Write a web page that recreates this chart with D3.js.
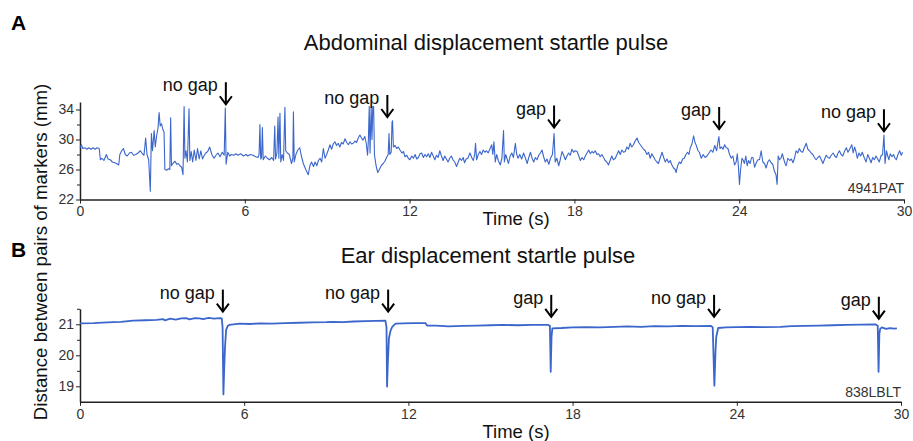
<!DOCTYPE html>
<html>
<head>
<meta charset="utf-8">
<script src="https://cdn.jsdelivr.net/npm/d3@7"></script>
<style>
  html, body { margin: 0; padding: 0; background: #fff; }
  svg { display: block; font-family: "Liberation Sans", Arial, sans-serif; }
  .axis path, .axis line { stroke: #222; }
  .axis text { fill: #333; font-size: 14px; font-family: "Liberation Sans", Arial, sans-serif; }
</style>
</head>
<body>
<svg id="chart" width="913" height="441"></svg>
<script>
// ---------------- DATA ----------------
const xTicks = [0, 6, 12, 18, 24, 30];
const topYTicks = [22, 26, 30, 34];
const topYMinor = [24, 28, 32];
const botYTicks = [19, 20, 21];
const botYMinor = [19.5, 20.5, 21.5];

const topTitle = "Abdominal displacement startle pulse";
const botTitle = "Ear displacement startle pulse";
const topId = "4941PAT";
const botId = "838LBLT";

const topEventTimes = [5.31, 11.19, 17.26, 23.27, 29.27];
const topEventLabels = ["no gap", "no gap", "gap", "gap", "no gap"];
const topArrowTip = [34.7, 33.0, 31.6, 31.4, 31.1];

const botEventTimes = [5.22, 11.26, 17.22, 23.17, 29.19];
const botEventLabels = ["no gap", "no gap", "gap", "no gap", "gap"];
const botArrowTip = [21.41, 21.41, 21.24, 21.24, 21.18];

// Abdominal trace: [time (s), distance (mm)]
const abdominalTrace = [
[0.00,28.9],[0.05,29.3],[0.10,28.8],[0.18,28.9],[0.25,28.7],[0.32,28.9],[0.40,28.7],[0.48,28.9],[0.55,28.7],[0.62,28.9],
[0.70,28.8],[0.74,27.3],[0.80,27.5],[0.87,27.2],[0.96,28.0],[1.02,27.4],[1.10,27.3],[1.18,27.0],[1.26,26.9],[1.33,26.8],
[1.41,26.6],[1.45,28.0],[1.52,28.5],[1.58,28.8],[1.65,28.0],[1.72,27.8],[1.80,28.2],[1.87,28.3],[1.95,27.9],[2.03,28.0],
[2.11,28.2],[2.20,28.5],[2.27,28.1],[2.33,27.9],[2.39,30.2],[2.44,28.0],[2.50,27.3],[2.56,23.1],[2.60,30.8],[2.64,28.5],
[2.70,31.2],[2.74,29.0],[2.79,30.5],[2.84,31.5],[2.88,33.6],[2.92,31.8],[2.97,32.1],[3.02,31.3],[3.06,31.0],[3.09,26.0],
[3.15,25.9],[3.22,26.1],[3.27,26.0],[3.30,32.9],[3.33,26.5],[3.40,26.9],[3.46,27.1],[3.52,26.7],[3.58,26.8],[3.64,26.5],
[3.70,26.3],[3.75,25.3],[3.79,34.4],[3.82,27.5],[3.86,28.5],[3.91,27.0],[3.97,34.1],[4.00,27.2],[4.05,28.4],[4.10,27.0],
[4.16,28.6],[4.22,27.2],[4.28,28.8],[4.34,27.4],[4.40,28.5],[4.46,27.4],[4.51,27.8],[4.58,28.2],[4.65,28.4],[4.72,29.0],
[4.80,28.0],[4.88,27.5],[4.95,27.9],[5.02,28.2],[5.10,27.7],[5.18,28.3],[5.25,27.9],[5.29,34.2],[5.32,26.7],[5.38,28.3],
[5.45,27.8],[5.51,28.0],[5.60,27.9],[5.68,28.1],[5.75,27.9],[5.85,28.1],[5.95,27.8],[6.05,28.0],[6.11,27.8],[6.20,28.0],
[6.30,27.9],[6.40,27.7],[6.48,27.6],[6.52,28.0],[6.55,32.0],[6.58,27.4],[6.61,27.6],[6.64,31.6],[6.67,27.3],[6.75,27.8],
[6.82,27.5],[6.90,27.3],[6.98,27.6],[7.05,27.2],[7.09,31.8],[7.12,27.4],[7.17,28.2],[7.21,33.0],[7.24,27.5],[7.28,33.5],
[7.31,27.0],[7.36,28.0],[7.41,27.2],[7.46,34.3],[7.49,28.5],[7.55,28.2],[7.62,28.0],[7.70,26.8],[7.75,27.5],[7.77,33.7],
[7.80,27.0],[7.86,28.0],[7.93,28.6],[8.00,28.9],[8.06,27.8],[8.13,26.8],[8.22,26.0],[8.31,25.3],[8.37,26.5],[8.43,27.0],
[8.50,26.4],[8.56,27.0],[8.62,26.5],[8.68,27.2],[8.74,27.5],[8.80,27.0],[8.86,28.8],[8.92,27.5],[8.98,28.0],[9.04,28.6],
[9.10,29.3],[9.16,28.7],[9.22,29.4],[9.28,29.7],[9.34,29.2],[9.40,29.5],[9.46,29.0],[9.52,29.6],[9.58,29.4],[9.65,30.1],
[9.71,29.6],[9.77,29.3],[9.83,29.7],[9.89,29.4],[9.95,29.5],[10.01,29.8],[10.07,29.6],[10.13,30.2],[10.19,30.6],[10.25,30.2],
[10.30,29.9],[10.37,30.4],[10.42,29.5],[10.47,27.9],[10.50,30.0],[10.53,34.4],[10.56,28.2],[10.60,34.4],[10.63,30.0],[10.66,34.4],
[10.69,34.4],[10.72,28.0],[10.78,26.5],[10.84,25.6],[10.90,26.0],[10.98,26.6],[11.04,26.8],[11.10,27.1],[11.16,27.6],[11.22,28.0],
[11.25,30.8],[11.28,28.0],[11.33,28.3],[11.36,32.3],[11.38,32.5],[11.41,29.0],[11.47,29.2],[11.53,28.8],[11.59,29.0],[11.65,28.6],
[11.72,28.2],[11.78,28.4],[11.83,27.7],[11.90,27.9],[11.95,27.5],[12.01,27.3],[12.08,27.8],[12.14,27.5],[12.20,28.0],[12.26,27.4],
[12.32,27.6],[12.38,28.1],[12.44,28.2],[12.50,27.6],[12.56,28.0],[12.62,27.7],[12.68,28.1],[12.74,27.6],[12.80,28.3],[12.86,27.8],
[12.92,27.3],[12.98,27.9],[13.04,27.6],[13.10,28.5],[13.16,27.8],[13.22,27.2],[13.28,27.8],[13.34,27.4],[13.40,27.0],[13.46,27.5],
[13.52,27.8],[13.58,27.3],[13.64,27.0],[13.71,26.4],[13.77,27.0],[13.83,27.5],[13.89,27.2],[13.95,27.6],[14.00,26.9],[14.06,27.4],
[14.12,27.5],[14.20,28.2],[14.26,27.6],[14.32,27.2],[14.37,28.0],[14.40,29.5],[14.44,27.3],[14.50,28.0],[14.56,28.4],[14.62,28.0],
[14.68,28.6],[14.74,28.3],[14.80,28.5],[14.86,28.2],[14.92,28.7],[14.99,29.3],[15.03,28.0],[15.07,29.7],[15.12,27.0],[15.17,28.0],
[15.23,27.2],[15.30,26.6],[15.36,27.5],[15.42,31.2],[15.45,27.0],[15.50,28.0],[15.55,27.4],[15.60,26.8],[15.66,27.8],[15.72,28.2],
[15.78,27.6],[15.85,29.5],[15.90,28.0],[15.95,27.5],[16.01,28.0],[16.08,27.4],[16.15,28.2],[16.21,27.6],[16.28,26.8],[16.34,27.6],
[16.40,28.3],[16.46,27.5],[16.52,27.0],[16.58,27.6],[16.64,27.3],[16.70,27.9],[16.76,28.2],[16.82,28.6],[16.88,27.7],[16.94,27.0],
[17.00,27.4],[17.07,26.7],[17.13,27.5],[17.20,28.0],[17.26,30.8],[17.30,27.0],[17.36,27.5],[17.43,26.5],[17.49,27.4],[17.55,28.4],
[17.61,27.9],[17.67,27.3],[17.73,27.8],[17.79,28.2],[17.85,27.9],[17.91,28.7],[17.97,28.3],[18.03,28.5],[18.10,28.4],[18.16,27.8],
[18.22,27.2],[18.28,27.6],[18.34,27.3],[18.40,27.8],[18.46,28.2],[18.52,28.6],[18.58,28.1],[18.64,28.4],[18.70,28.2],[18.76,28.5],
[18.82,28.0],[18.88,28.1],[18.94,27.7],[19.00,28.0],[19.06,27.6],[19.12,27.2],[19.18,27.0],[19.24,26.6],[19.30,27.2],[19.36,27.8],
[19.42,27.3],[19.49,27.5],[19.55,28.0],[19.61,28.5],[19.67,28.0],[19.73,28.6],[19.79,28.3],[19.85,28.4],[19.91,29.0],[19.97,28.7],
[20.03,29.5],[20.09,29.0],[20.15,29.3],[20.21,29.8],[20.28,30.2],[20.34,29.6],[20.40,29.3],[20.46,29.0],[20.52,28.7],[20.58,28.5],
[20.64,28.0],[20.70,28.3],[20.76,27.5],[20.82,28.1],[20.88,27.7],[20.94,27.3],[21.00,27.0],[21.06,26.8],[21.12,27.5],[21.19,28.3],
[21.25,27.6],[21.31,27.0],[21.37,27.4],[21.43,26.9],[21.49,27.2],[21.55,26.6],[21.61,26.2],[21.67,26.0],[21.70,25.6],[21.76,26.5],
[21.82,27.0],[21.88,26.8],[21.94,27.4],[22.00,27.5],[22.06,28.0],[22.12,28.3],[22.17,28.0],[22.22,28.9],[22.28,29.4],[22.34,30.5],
[22.39,29.6],[22.44,29.2],[22.50,28.5],[22.55,28.3],[22.62,27.5],[22.69,28.0],[22.76,27.6],[22.83,27.8],[22.90,28.2],[22.97,28.6],
[23.04,28.3],[23.11,29.2],[23.18,28.5],[23.22,29.5],[23.26,30.4],[23.30,28.8],[23.36,29.0],[23.41,28.7],[23.47,29.3],[23.53,28.9],
[23.59,28.8],[23.65,28.0],[23.71,27.5],[23.77,27.8],[23.83,26.6],[23.89,27.0],[23.93,28.1],[23.97,26.5],[24.01,24.0],[24.05,26.0],
[24.10,27.5],[24.15,27.2],[24.19,26.8],[24.24,27.8],[24.29,26.5],[24.34,27.2],[24.40,26.8],[24.45,27.6],[24.50,27.6],[24.56,26.3],
[24.62,26.9],[24.68,27.3],[24.74,27.3],[24.80,28.5],[24.86,27.0],[24.92,26.8],[24.98,26.2],[25.04,27.0],[25.10,27.3],[25.16,26.9],
[25.22,26.7],[25.28,25.8],[25.34,25.3],[25.38,24.0],[25.42,27.8],[25.47,27.3],[25.52,27.5],[25.57,28.1],[25.62,27.4],[25.67,26.8],
[25.71,26.5],[25.77,27.5],[25.84,27.2],[25.90,27.4],[25.96,26.9],[26.02,27.6],[26.07,28.5],[26.13,28.2],[26.19,28.8],[26.25,28.4],
[26.31,28.3],[26.37,28.9],[26.44,29.5],[26.50,28.7],[26.56,28.5],[26.62,28.2],[26.68,28.0],[26.74,27.6],[26.80,27.3],[26.86,27.6],
[26.93,27.8],[26.99,27.3],[27.05,26.8],[27.11,27.4],[27.17,27.9],[27.23,27.6],[27.29,27.5],[27.35,27.9],[27.42,28.2],[27.48,27.8],
[27.54,27.6],[27.60,28.2],[27.65,28.5],[27.71,28.0],[27.77,27.8],[27.83,28.4],[27.90,28.9],[27.96,28.3],[28.02,28.7],[28.10,29.3],
[28.15,28.2],[28.20,29.0],[28.25,28.4],[28.30,27.5],[28.36,28.2],[28.42,27.8],[28.48,28.3],[28.55,27.6],[28.62,27.0],[28.68,28.0],
[28.74,27.5],[28.80,26.9],[28.86,27.6],[28.92,27.3],[28.98,27.8],[29.04,27.4],[29.10,27.0],[29.16,27.8],[29.22,28.0],[29.27,30.6],
[29.31,26.8],[29.36,28.5],[29.41,27.8],[29.45,27.3],[29.50,28.1],[29.56,27.7],[29.62,28.0],[29.67,27.5],[29.72,27.3],[29.78,28.0],
[29.84,28.5],[29.90,27.9],[29.95,28.3]
];

// Ear trace: [time (s), distance (mm)]
const earTrace = [
[0.00,21.03],[0.5,21.04],[1.0,21.06],[1.5,21.08],[1.94,21.12],[2.4,21.13],[2.8,21.14],[3.03,21.17],[3.1,21.13],[3.3,21.18],
[3.5,21.15],[3.7,21.19],[3.88,21.20],[4.0,21.16],[4.2,21.20],[4.37,21.19],[4.5,21.17],[4.7,21.21],[4.9,21.18],[5.1,21.20],
[5.18,21.19],[5.21,20.9],[5.24,18.74],[5.27,19.6],[5.30,20.28],[5.34,20.82],[5.40,20.95],[5.46,20.98],[5.6,21.0],[5.82,21.02],
[6.2,21.01],[6.6,21.03],[7.0,21.02],[7.5,21.04],[8.0,21.05],[8.5,21.06],[9.0,21.07],[9.22,21.08],[9.6,21.07],[10.0,21.09],
[10.43,21.10],[10.8,21.11],[11.16,21.12],[11.20,20.9],[11.22,18.99],[11.25,19.8],[11.29,20.56],[11.35,20.80],[11.41,20.92],[11.53,21.02],
[11.8,21.03],[12.2,21.04],[12.62,21.04],[12.68,20.96],[13.0,20.96],[13.47,20.93],[14.0,20.95],[14.5,20.96],[15.0,20.97],[15.5,20.98],
[16.0,20.97],[16.5,20.98],[17.11,20.98],[17.17,20.95],[17.20,19.47],[17.23,20.6],[17.26,20.87],[17.6,20.88],[18.0,20.90],[18.5,20.91],
[19.0,20.90],[19.54,20.92],[20.0,20.93],[20.5,20.92],[21.0,20.94],[21.5,20.93],[22.0,20.95],[22.5,20.94],[23.06,20.95],[23.12,20.90],
[23.18,19.02],[23.22,20.1],[23.25,20.6],[23.32,20.88],[23.6,20.90],[24.0,20.91],[24.5,20.92],[25.0,20.91],[25.6,20.92],[26.0,20.94],
[26.5,20.95],[27.0,20.96],[27.5,20.97],[28.0,20.98],[28.5,20.99],[29.06,21.00],[29.15,20.95],[29.18,19.47],[29.21,20.7],[29.24,20.85],
[29.3,20.90],[29.45,20.85],[29.6,20.88],[29.75,20.86],[29.85,20.87]
];

// ---------------- DRAW ----------------
const svg = d3.select("#chart");
const lineColor = "#3b66cc";
const font = '"Liberation Sans", Arial, sans-serif';

function panel(opts) {
  const x = d3.scaleLinear().domain([0, 30]).range(opts.xRange);
  const y = d3.scaleLinear().domain(opts.yDomain).range(opts.yRange);
  const g = svg.append("g");

  // x axis
  const xa = g.append("g").attr("class", "axis")
    .attr("transform", `translate(0,${opts.yRange[0]})`)
    .call(d3.axisBottom(x).tickValues(xTicks).tickSize(4).tickSizeOuter(0).tickPadding(3));
  xa.select(".domain").attr("stroke-width", 1.5);

  // y axis major
  const ya = g.append("g").attr("class", "axis")
    .attr("transform", `translate(${opts.xRange[0]},0)`)
    .call(d3.axisLeft(y).tickValues(opts.yTicks).tickSize(4).tickSizeOuter(0).tickPadding(2)
      .tickFormat(d3.format("~g")));
  ya.select(".domain").attr("stroke-width", 1.5);
  // y axis minor
  const ym = g.append("g").attr("class", "axis")
    .attr("transform", `translate(${opts.xRange[0]},0)`)
    .call(d3.axisLeft(y).tickValues(opts.yMinor).tickSize(3).tickSizeOuter(0).tickFormat(""));
  ym.select(".domain").remove();

  // trace
  const line = d3.line().x(d => x(d[0])).y(d => y(d[1]));
  g.append("path").datum(opts.trace)
    .attr("fill", "none").attr("stroke", lineColor)
    .attr("stroke-width", opts.lw).attr("stroke-linejoin", "round")
    .attr("d", line);

  // title
  g.append("text").attr("x", opts.titleX).attr("y", opts.titleY)
    .attr("text-anchor", "middle").attr("font-size", 22).attr("fill", "#111")
    .attr("font-family", font).text(opts.title);

  // id label
  g.append("text").attr("x", opts.xRange[1]).attr("y", opts.idY)
    .attr("text-anchor", "end").attr("font-size", 14).attr("fill", "#333")
    .attr("font-family", font).text(opts.id);

  // x label
  g.append("text").attr("x", 516).attr("y", opts.xLabelY)
    .attr("text-anchor", "middle").attr("font-size", 18.5).attr("fill", "#111")
    .attr("font-family", font).text("Time (s)");

  // events
  opts.times.forEach((t, i) => {
    const ax = x(t);
    const tipY = y(opts.tips[i]);
    const topY = tipY - opts.arrowLen;
    const ev = g.append("g");
    ev.append("line").attr("x1", ax).attr("x2", ax).attr("y1", topY).attr("y2", tipY - 1)
      .attr("stroke", "#000").attr("stroke-width", 2);
    ev.append("path")
      .attr("d", `M${ax - 6},${tipY - 8} L${ax},${tipY} L${ax + 6},${tipY - 8}`)
      .attr("fill", "none").attr("stroke", "#000").attr("stroke-width", 2)
      .attr("stroke-linejoin", "miter");
    ev.append("text").attr("x", ax - 8).attr("y", topY + 9)
      .attr("text-anchor", "end").attr("font-size", 18).attr("fill", "#111")
      .attr("font-family", font).text(opts.labels[i]);
  });
}

panel({
  xRange: [80, 904], yDomain: [22, 35], yRange: [199.5, 102],
  yTicks: topYTicks, yMinor: topYMinor, trace: abdominalTrace, lw: 1.1,
  title: topTitle, titleX: 486, titleY: 50, id: topId, idY: 193, xLabelY: 225,
  times: topEventTimes, labels: topEventLabels, tips: topArrowTip, arrowLen: 22
});

panel({
  xRange: [80, 901], yDomain: [18.5, 21.5], yRange: [401.8, 308.8],
  yTicks: botYTicks, yMinor: botYMinor, trace: earTrace, lw: 1.8,
  title: botTitle, titleX: 488, titleY: 263, id: botId, idY: 397, xLabelY: 438,
  times: botEventTimes, labels: botEventLabels, tips: botArrowTip, arrowLen: 22
});

// panel letters
svg.append("text").attr("x", 11).attr("y", 30).attr("font-size", 21).attr("font-weight", "bold")
  .attr("font-family", font).attr("fill", "#000").text("A");
svg.append("text").attr("x", 11).attr("y", 257).attr("font-size", 21).attr("font-weight", "bold")
  .attr("font-family", font).attr("fill", "#000").text("B");

// shared y label
svg.append("text")
  .attr("transform", "translate(47,252) rotate(-90)")
  .attr("text-anchor", "middle").attr("font-size", 18.7).attr("fill", "#111")
  .attr("font-family", font).text("Distance between pairs of markers (mm)");
</script>
</body>
</html>
